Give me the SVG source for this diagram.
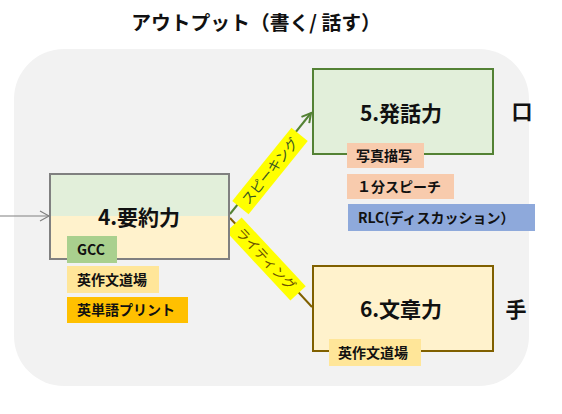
<svg xmlns="http://www.w3.org/2000/svg" width="562" height="414" viewBox="0 0 562 414">
<defs>
<style>
text{font-family:"Noto Sans CJK JP","Noto Sans",sans-serif;font-weight:bold;fill:#111}
.title{font-size:19.8px}
.node{font-size:21px}
.tag{font-size:14px}
.side{font-size:21px}
.lab{font-size:13.5px;font-weight:normal}
</style>
<marker id="arrG" markerWidth="12" markerHeight="12" refX="10" refY="6" orient="auto" markerUnits="userSpaceOnUse">
<path d="M1,1 L10,6 L1,11" fill="none" stroke="#548235" stroke-width="2"/>
</marker>
<marker id="arrGrey" markerWidth="12" markerHeight="12" refX="10" refY="6" orient="auto" markerUnits="userSpaceOnUse">
<path d="M1,1 L10,6 L1,11" fill="none" stroke="#808080" stroke-width="1.2"/>
</marker>
</defs>
<rect width="562" height="414" fill="#ffffff"/>
<text class="title" x="256" y="30" text-anchor="middle">アウトプット（書く/ 話す）</text>
<rect x="14" y="49" width="515" height="337" rx="50" ry="50" fill="#f2f2f2"/>

<g id="connectors">
<line x1="0" y1="216" x2="49" y2="216" stroke="#808080" stroke-width="1.2" marker-end="url(#arrGrey)"/>
<line x1="230" y1="214" x2="311" y2="113" stroke="#548235" stroke-width="2" marker-end="url(#arrG)"/>
<line x1="230" y1="218" x2="312" y2="307" stroke="#806000" stroke-width="2"/>
<g transform="translate(270,171) rotate(-51)">
<rect x="-47" y="-10.5" width="94" height="21" fill="#ffff00"/>
<text class="lab" x="0" y="5" text-anchor="middle" style="fill:#375623">スピーキング</text>
</g>
<g transform="translate(266,259) rotate(47)">
<rect x="-47" y="-10.5" width="94" height="21" fill="#ffff00"/>
<text class="lab" x="0" y="5" text-anchor="middle" style="fill:#6b5200">ライティング</text>
</g>
</g>

<g id="node4">
<rect x="50" y="174" width="179" height="42" fill="#e2efda"/>
<rect x="50" y="216" width="179" height="43" fill="#fff2cc"/>
<rect x="50" y="174" width="179" height="85" fill="none" stroke="#808080" stroke-width="2"/>
<text class="node" x="139" y="225" text-anchor="middle">4.要約力</text>
</g>
<g id="tag-gcc">
<rect x="67" y="236" width="50" height="27" fill="#a9d08e"/>
<text class="tag" x="77" y="255">GCC</text>
</g>
<g id="tag-eisakubun4">
<rect x="67" y="266" width="92" height="27" fill="#ffe699"/>
<text class="tag" x="77" y="285">英作文道場</text>
</g>
<g id="tag-tango">
<rect x="67" y="297" width="121" height="26" fill="#ffc000"/>
<text class="tag" x="77" y="315">英単語プリント</text>
</g>

<g id="node5">
<rect x="313" y="69" width="180" height="85" fill="#e2efda" stroke="#548235" stroke-width="2"/>
<text class="node" x="401" y="121" text-anchor="middle">5.発話力</text>
</g>
<g id="tag-shashin">
<rect x="347" y="143" width="77" height="25" fill="#f8cbad"/>
<text class="tag" x="356" y="161">写真描写</text>
</g>
<g id="tag-speech">
<rect x="347" y="174" width="107" height="25" fill="#f8cbad"/>
<text class="tag" x="357" y="192">１分スピーチ</text>
</g>
<g id="tag-rlc">
<rect x="348" y="204" width="187" height="27" fill="#8ea9db"/>
<text class="tag" x="358" y="223">RLC(ディスカッション）</text>
</g>
<g id="label-kuchi">
<text class="side" x="522" y="119" text-anchor="middle">口</text>
</g>

<g id="node6">
<rect x="313" y="266" width="180" height="85" fill="#fff2cc" stroke="#806000" stroke-width="2"/>
<text class="node" x="401" y="317" text-anchor="middle">6.文章力</text>
</g>
<g id="tag-eisakubun6">
<rect x="329" y="339" width="92" height="27" fill="#ffe699"/>
<text class="tag" x="338" y="358">英作文道場</text>
</g>
<g id="label-te">
<text class="side" x="516" y="317" text-anchor="middle">手</text>
</g>
</svg>
